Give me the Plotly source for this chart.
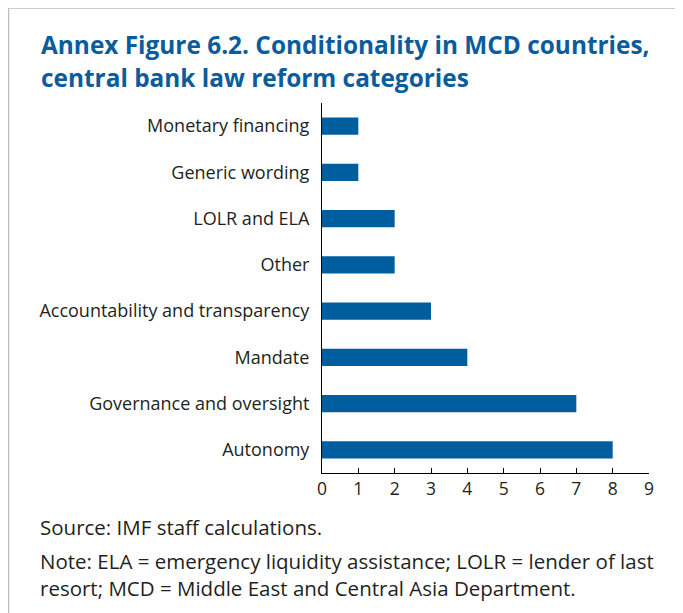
import plotly.graph_objects as go

categories = ["Autonomy", "Governance and oversight", "Mandate", "Accountability and transparency",
              "Other", "LOLR and ELA", "Generic wording", "Monetary financing"]
values = [8, 7, 4, 3, 2, 2, 1, 1]
x_ticks = list(range(0, 10))

OFF = 8  # page body margin
W, H = 683 - OFF, 613 - OFF
L, R, T, B = 322 - OFF, 649 - OFF, 103 - OFF, 473 - OFF

def px(x):
    return (x - OFF - L) / (R - L)

def py(y):
    return 1 - (y - OFF - T) / (B - T)

fig = go.Figure(go.Bar(
    x=values, y=categories, orientation="h",
    marker=dict(color="#005E9E", line=dict(width=0)),
    width=0.37,
))

font_main = "'Open Sans', sans-serif"
txt_col = "#231F20"

fig.update_layout(
    width=W, height=H,
    margin=dict(l=L, r=W - R, t=T, b=H - B, pad=0),
    paper_bgcolor="white", plot_bgcolor="white",
    showlegend=False,
    font=dict(family=font_main, size=17, color=txt_col),
    xaxis=dict(range=[0, 9], tickvals=x_ticks, ticks="inside", ticklen=5, tickwidth=1,
               tickcolor="black", showline=True, linecolor="black", linewidth=1,
               showgrid=False, zeroline=False, fixedrange=True,
               tickfont=dict(size=17.5, color=txt_col)),
    yaxis=dict(range=[-0.5, 7.5], showline=True, linecolor="black", linewidth=1,
               ticks="", showgrid=False, zeroline=False, ticklabelstandoff=8,
               tickfont=dict(size=18, color=txt_col)),
    shapes=[
        dict(type="line", xref="paper", yref="paper", x0=px(8.5), x1=px(700), y0=py(8), y1=py(8),
             line=dict(color="#BDBDBD", width=1.5)),
        dict(type="line", xref="paper", yref="paper", x0=px(8.5), x1=px(8.5), y0=py(8), y1=py(700),
             line=dict(color="#BDBDBD", width=1.5)),
    ],
)

title_lines = ["Annex Figure 6.2. Conditionality in MCD countries,",
               "central bank law reform categories"]
for i, t in enumerate(title_lines):
    fig.add_annotation(text="<b>" + t + "</b>", xref="paper", yref="paper",
                       x=px(39), y=py(44 + 33 * i), xanchor="left", yanchor="middle",
                       showarrow=False, font=dict(family=font_main, size=24.4, color="#0B5C9C"))

source_text = "Source: IMF staff calculations."
note_text = ("Note: ELA = emergency liquidity assistance; LOLR = lender of last<br>"
             "resort; MCD = Middle East and Central Asia Department.")
fig.add_annotation(text=source_text, xref="paper", yref="paper", x=px(38), y=py(527),
                   xanchor="left", yanchor="middle", showarrow=False, align="left",
                   font=dict(family=font_main, size=20.5, color=txt_col))
fig.add_annotation(text=note_text, xref="paper", yref="paper", x=px(38), y=py(574.5),
                   xanchor="left", yanchor="middle", showarrow=False, align="left",
                   font=dict(family=font_main, size=20.5, color=txt_col))

fig.write_html("out.html")
